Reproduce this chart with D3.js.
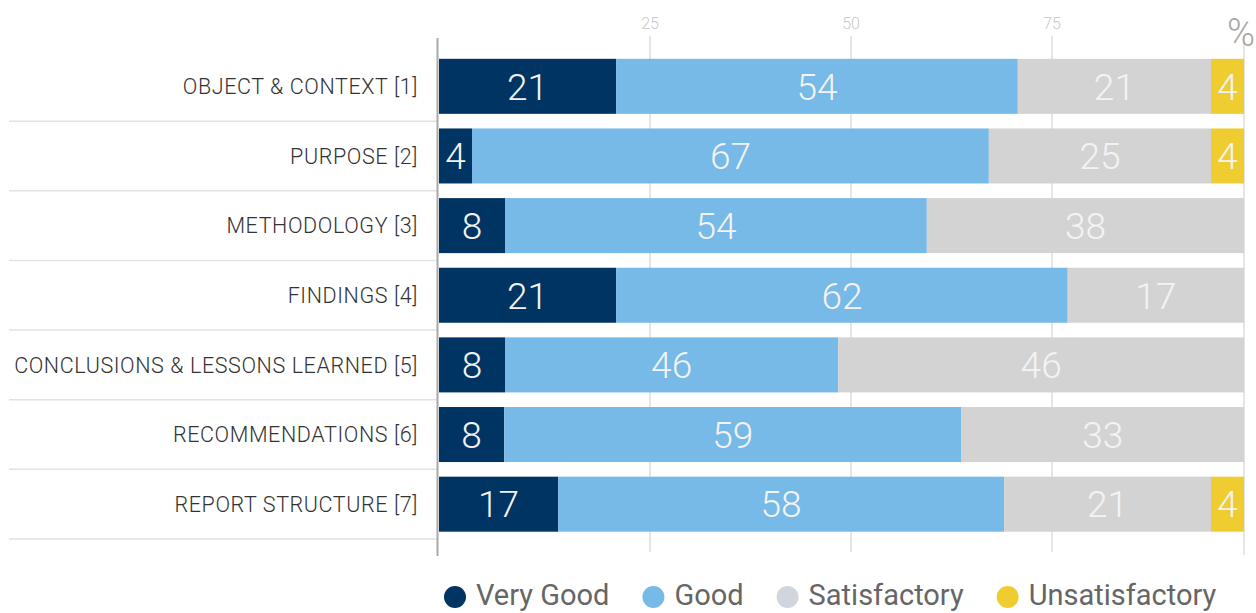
<!DOCTYPE html>
<html>
<head>
<meta charset="utf-8">
<script src="https://cdn.jsdelivr.net/npm/d3@7"></script>
<style>
  body { margin: 0; background: #fff; }
  svg { display: block; font-family: Roboto, "Helvetica Neue", Arial, sans-serif; }
</style>
</head>
<body>
<div class="plot"></div>
<script>
// criteria (rows) and rating categories
var criteria = ["OBJECT & CONTEXT [1]", "PURPOSE [2]", "METHODOLOGY [3]", "FINDINGS [4]",
                "CONCLUSIONS & LESSONS LEARNED [5]", "RECOMMENDATIONS [6]", "REPORT STRUCTURE [7]"];
var ratings = ["Very Good", "Good", "Satisfactory", "Unsatisfactory"];
var colors = ["#003462", "#77b9e7", "#d3d3d3", "#efcd30"];
var legendColors = ["#003462", "#77b9e7", "#d1d6de", "#efcd30"];

// printed percentages
var veryGood       = [21, 4, 8, 21, 8, 8, 17];
var good           = [54, 67, 54, 62, 46, 59, 58];
var satisfactory   = [21, 25, 38, 17, 46, 33, 21];
var unsatisfactory = [4, 4, 0, 0, 0, 0, 4];

// segment lengths as drawn in the picture (they differ a bit from the printed numbers)
var veryGoodBar       = [22.0, 4.1, 8.2, 22.0, 8.2, 8.1, 14.8];
var goodBar           = [49.9, 64.2, 52.4, 56.1, 41.4, 56.8, 55.4];
var satisfactoryBar   = [24.0, 27.6, 39.4, 21.9, 50.4, 35.1, 25.7];
var unsatisfactoryBar = [4.1, 4.1, 0, 0, 0, 0, 4.1];

var ticks = [25, 50, 75];

var width = 1256, height = 613;

var svg = d3.select(".plot").append("svg")
    .attr("width", width)
    .attr("height", height);

var x = d3.scaleLinear().domain([0, 100]).range([439, 1244]);
// the grid in the picture sits ~10px right of the bars
var xg = d3.scaleLinear().domain([0, 100]).range([449, 1253]);

var y = d3.scaleBand()
    .domain(criteria)
    .range([51.5, 539])
    .paddingInner(0.21)
    .paddingOuter(0.105);

var rows = criteria.map(function(c, i) {
  var lens = [veryGoodBar[i], goodBar[i], satisfactoryBar[i], unsatisfactoryBar[i]];
  var labs = [veryGood[i], good[i], satisfactory[i], unsatisfactory[i]];
  var acc = 0;
  return lens.map(function(v, k) {
    var seg = {row: c, k: k, x0: acc, x1: acc + v, label: labs[k]};
    acc += v;
    return seg;
  }).filter(function(d) { return d.label > 0; });
});

// gridlines
svg.append("g")
    .attr("class", "grid")
    .selectAll("line")
    .data(ticks)
    .enter().append("line")
    .attr("x1", function(d) { return xg(d); })
    .attr("x2", function(d) { return xg(d); })
    .attr("y1", 36)
    .attr("y2", 552)
    .style("stroke", "#dcdcdc")
    .style("stroke-width", 1.5);

svg.append("g")
    .selectAll("text")
    .data(ticks)
    .enter().append("text")
    .attr("x", function(d) { return xg(d); })
    .attr("y", 29)
    .attr("text-anchor", "middle")
    .style("font-size", "16px")
    .style("font-weight", 300)
    .style("fill", "#c8c8c8")
    .text(function(d) { return d; });

svg.append("line")
    .attr("x1", x(100)).attr("x2", x(100))
    .attr("y1", 36).attr("y2", 555)
    .style("stroke", "#dcdcdc")
    .style("stroke-width", 1.5);

svg.append("text")
    .attr("x", 1255)
    .attr("y", 46)
    .attr("text-anchor", "end")
    .style("font-size", "38px")
    .style("font-weight", 300)
    .style("fill", "#a8a8a8")
    .text("%");

// row separators on the label side
svg.append("g")
    .selectAll("line")
    .data(criteria)
    .enter().append("line")
    .attr("x1", 9)
    .attr("x2", 437)
    .attr("y1", function(d) { return y(d) + y.bandwidth() + y.step() * 0.105; })
    .attr("y2", function(d) { return y(d) + y.bandwidth() + y.step() * 0.105; })
    .style("stroke", "#e2e2e2")
    .style("stroke-width", 1.5);

// bars
var row = svg.append("g").selectAll(".row")
    .data(rows)
    .enter().append("g")
    .attr("class", "row");

row.selectAll("rect")
    .data(function(d) { return d; })
    .enter().append("rect")
    .attr("x", function(d) { return x(d.x0); })
    .attr("y", function(d) { return y(d.row); })
    .attr("width", function(d) { return x(d.x1) - x(d.x0); })
    .attr("height", y.bandwidth())
    .style("fill", function(d) { return colors[d.k]; });

row.selectAll("text")
    .data(function(d) { return d; })
    .enter().append("text")
    .attr("x", function(d) { return (x(d.x0) + x(d.x1)) / 2; })
    .attr("y", function(d) { return y(d.row) + y.bandwidth() / 2; })
    .attr("dy", "0.36em")
    .attr("text-anchor", "middle")
    .style("font-size", "37px")
    .style("font-weight", 300)
    .style("fill", "#f3f3f3")
    .text(function(d) { return d.label; });

// left axis line
svg.append("line")
    .attr("x1", 437.5).attr("x2", 437.5)
    .attr("y1", 38).attr("y2", 556)
    .style("stroke", "#a9a9a9")
    .style("stroke-width", 2);

// category labels
svg.append("g")
    .selectAll("text")
    .data(criteria)
    .enter().append("text")
    .attr("x", 418)
    .attr("y", function(d) { return y(d) + y.bandwidth() / 2; })
    .attr("dy", "0.36em")
    .attr("text-anchor", "end")
    .style("font-size", "21.5px")
    .style("font-weight", 300)
    .style("letter-spacing", "0.6px")
    .style("fill", "#333")
    .text(function(d) { return d; });

// legend
var legend = svg.append("g").attr("class", "legend");
var lx = 455;
ratings.forEach(function(r, i) {
  legend.append("circle")
      .attr("cx", lx)
      .attr("cy", 597)
      .attr("r", 11)
      .style("fill", legendColors[i]);
  var t = legend.append("text")
      .attr("x", lx + 21)
      .attr("y", 595)
      .attr("dy", "0.36em")
      .style("font-size", "29px")
      .style("fill", "#666")
      .text(r);
  lx += 21 + t.node().getComputedTextLength() + 44;
});
</script>
</body>
</html>
